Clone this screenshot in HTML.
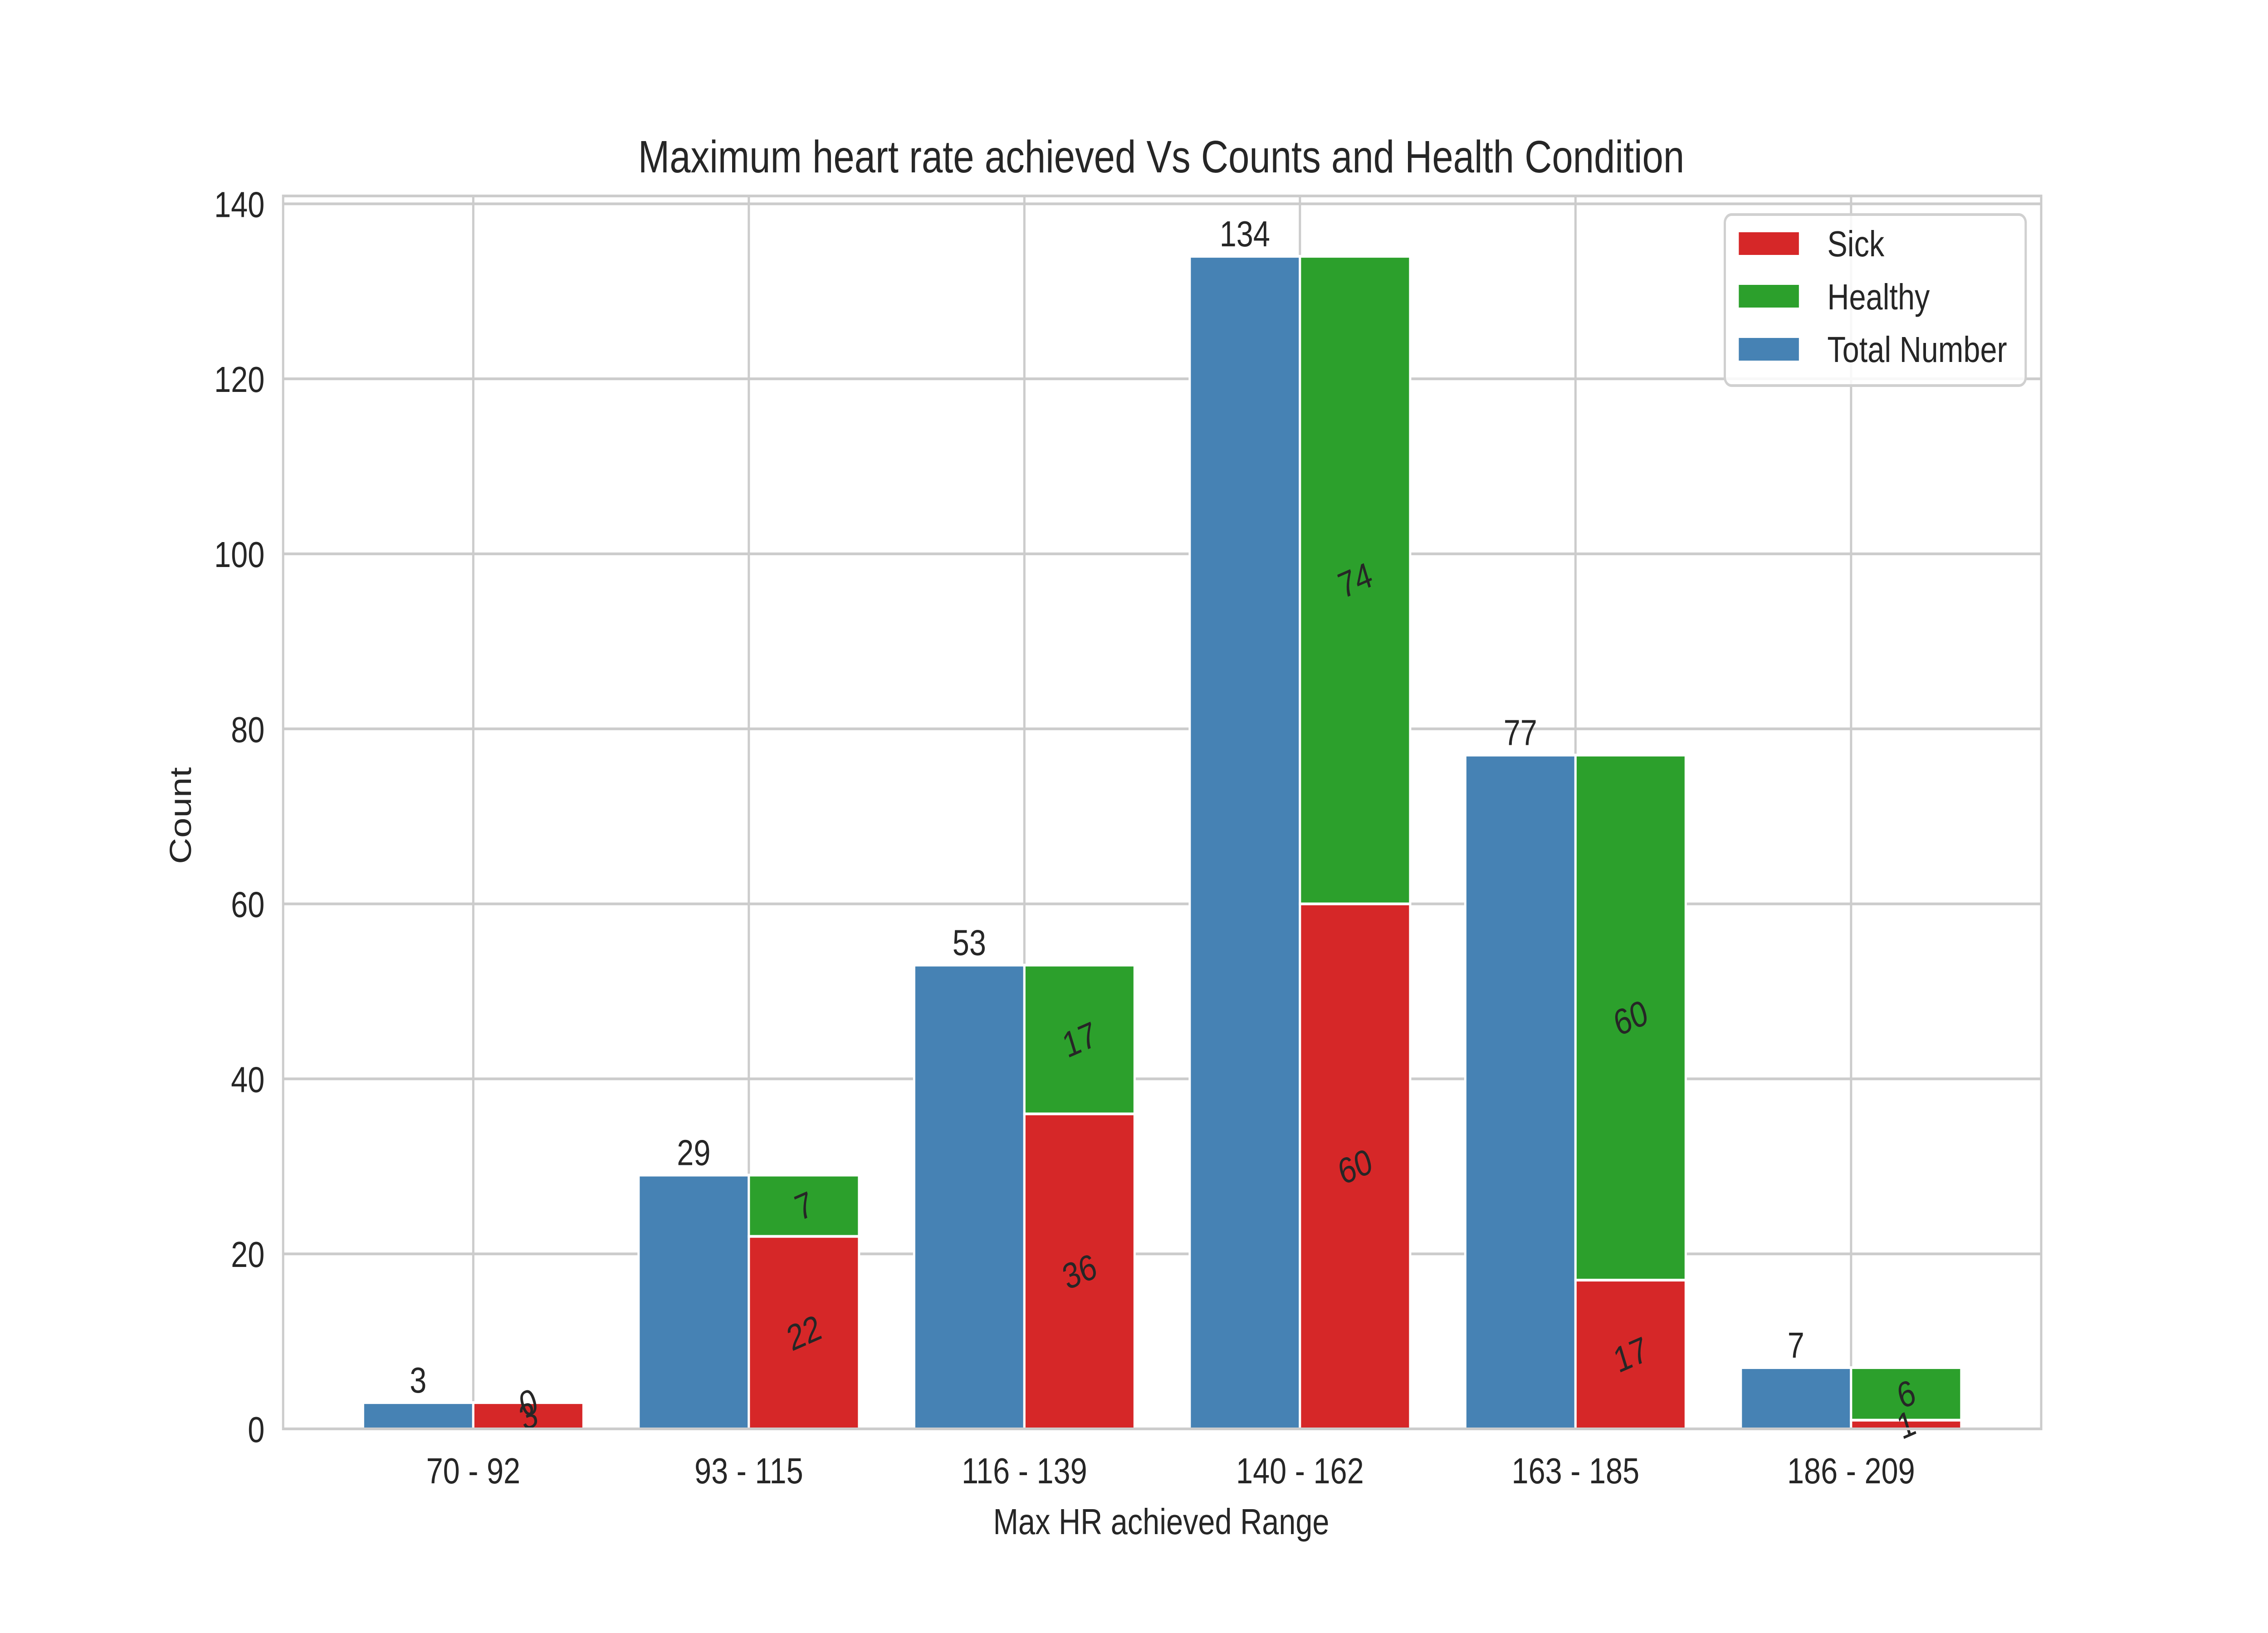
<!DOCTYPE html>
<html><head><meta charset="utf-8"><style>
html,body{margin:0;padding:0;background:#fff;overflow:hidden;width:100%;height:100%;}
svg{display:block;font-family:"Liberation Sans",sans-serif;width:100vw;height:100vh;}
</style></head><body>
<svg id="chart" viewBox="0 0 6000 3600" preserveAspectRatio="none" xmlns="http://www.w3.org/2000/svg">
<rect x="0" y="0" width="6000" height="3600" fill="#fff"/>
<g id="grid"></g>
<g id="bars"></g>
<g id="labels"></g>
<rect x="749" y="432" width="4651" height="2718" fill="none" stroke="#cccccc" stroke-width="6"/>
<g id="ticks"></g>
<text x="3072" y="380" font-size="100" text-anchor="middle" fill="#262626">Maximum heart rate achieved Vs Counts and Health Condition</text>
<text x="3072" y="3382" font-size="80" text-anchor="middle" fill="#262626">Max HR achieved Range</text>
<text x="0" y="0" font-size="80" text-anchor="middle" fill="#262626" transform="translate(505,1798) rotate(-90)">Count</text>
<g>
<rect x="4563" y="473" width="796" height="377" rx="18" fill="#fff" fill-opacity="0.85" stroke="#d0d0d0" stroke-width="6"/>
<g>
<rect x="4600" y="512" width="159" height="50" fill="#d62728"/>
<text x="4834" y="565" font-size="80" fill="#262626">Sick</text></g>
<g>
<rect x="4600" y="628" width="159" height="50" fill="#2ca02c"/>
<text x="4834" y="682" font-size="80" fill="#262626">Healthy</text></g>
<g>
<rect x="4600" y="745" width="159" height="50" fill="#4682b4"/>
<text x="4834" y="798" font-size="80" fill="#262626">Total Number</text></g>
</g>
</svg>
<script>
const categories = ["70 - 92","93 - 115","116 - 139","140 - 162","163 - 185","186 - 209"];
const totals = [3,29,53,134,77,7];
const sick = [3,22,36,60,17,1];
const healthy = [0,7,17,74,60,6];
const yTicks = [0,20,40,60,80,100,120,140];

const NS = "http://www.w3.org/2000/svg";
const L=749,R=5400,T=432,B=3150;
const xMin=-0.69,xMax=5.69,yMax=140.9;
function xs(v){return L+(v-xMin)/(xMax-xMin)*(R-L);}
function ys(v){return B-v/yMax*(B-T);}
function mk(tag,attrs,parent){const e=document.createElementNS(NS,tag);for(const k in attrs)e.setAttribute(k,attrs[k]);parent.appendChild(e);return e;}
const grid=document.getElementById('grid'),bars=document.getElementById('bars'),labels=document.getElementById('labels'),ticks=document.getElementById('ticks');
yTicks.forEach(t=>{
  const l=mk('line',{x1:L,x2:R,y1:ys(t),y2:ys(t),stroke:'#cccccc','stroke-width':6},grid);
  
  
  const tx=mk('text',{x:700,y:ys(t)+29,'font-size':80,'text-anchor':'end',fill:'#262626'},ticks);
  tx.textContent=t;
  
  
});
const w=0.4;
categories.forEach((c,i)=>{
  const g=mk('line',{x1:xs(i),x2:xs(i),y1:T,y2:B,stroke:'#cccccc','stroke-width':6},grid);
  
  
  const tx=mk('text',{x:xs(i),y:3270,'font-size':80,'text-anchor':'middle',fill:'#262626'},ticks);
  tx.textContent=c;
  
  
  function bar(x0,v0,v1,color,name){
    const r=mk('rect',{x:xs(x0),y:ys(v1),width:xs(x0+w)-xs(x0),height:ys(v0)-ys(v1),fill:color,stroke:'#fff','stroke-width':6},bars);
    
    
  }
  bar(i-w,0,totals[i],'#4682b4','bar-total');
  bar(i,0,sick[i],'#d62728','bar-sick');
  bar(i,sick[i],sick[i]+healthy[i],'#2ca02c','bar-healthy');
  const tl=mk('text',{x:xs(i-w/2),y:ys(totals[i])-22,'font-size':80,'text-anchor':'middle',fill:'#262626'},labels);
  tl.textContent=totals[i];
  
  
  function rl(v,val,name){
    const cx=xs(i+w/2),cy=ys(v);
    const t=mk('text',{x:cx,y:cy+28,'font-size':80,'text-anchor':'middle',fill:'#262626',transform:`rotate(-20 ${cx} ${cy})`},labels);
    t.textContent=val;
    
    
  }
  rl(sick[i]/2,sick[i],'sick-value-label');
  rl(sick[i]+healthy[i]/2,healthy[i],'healthy-value-label');
});
</script>
</body></html>
